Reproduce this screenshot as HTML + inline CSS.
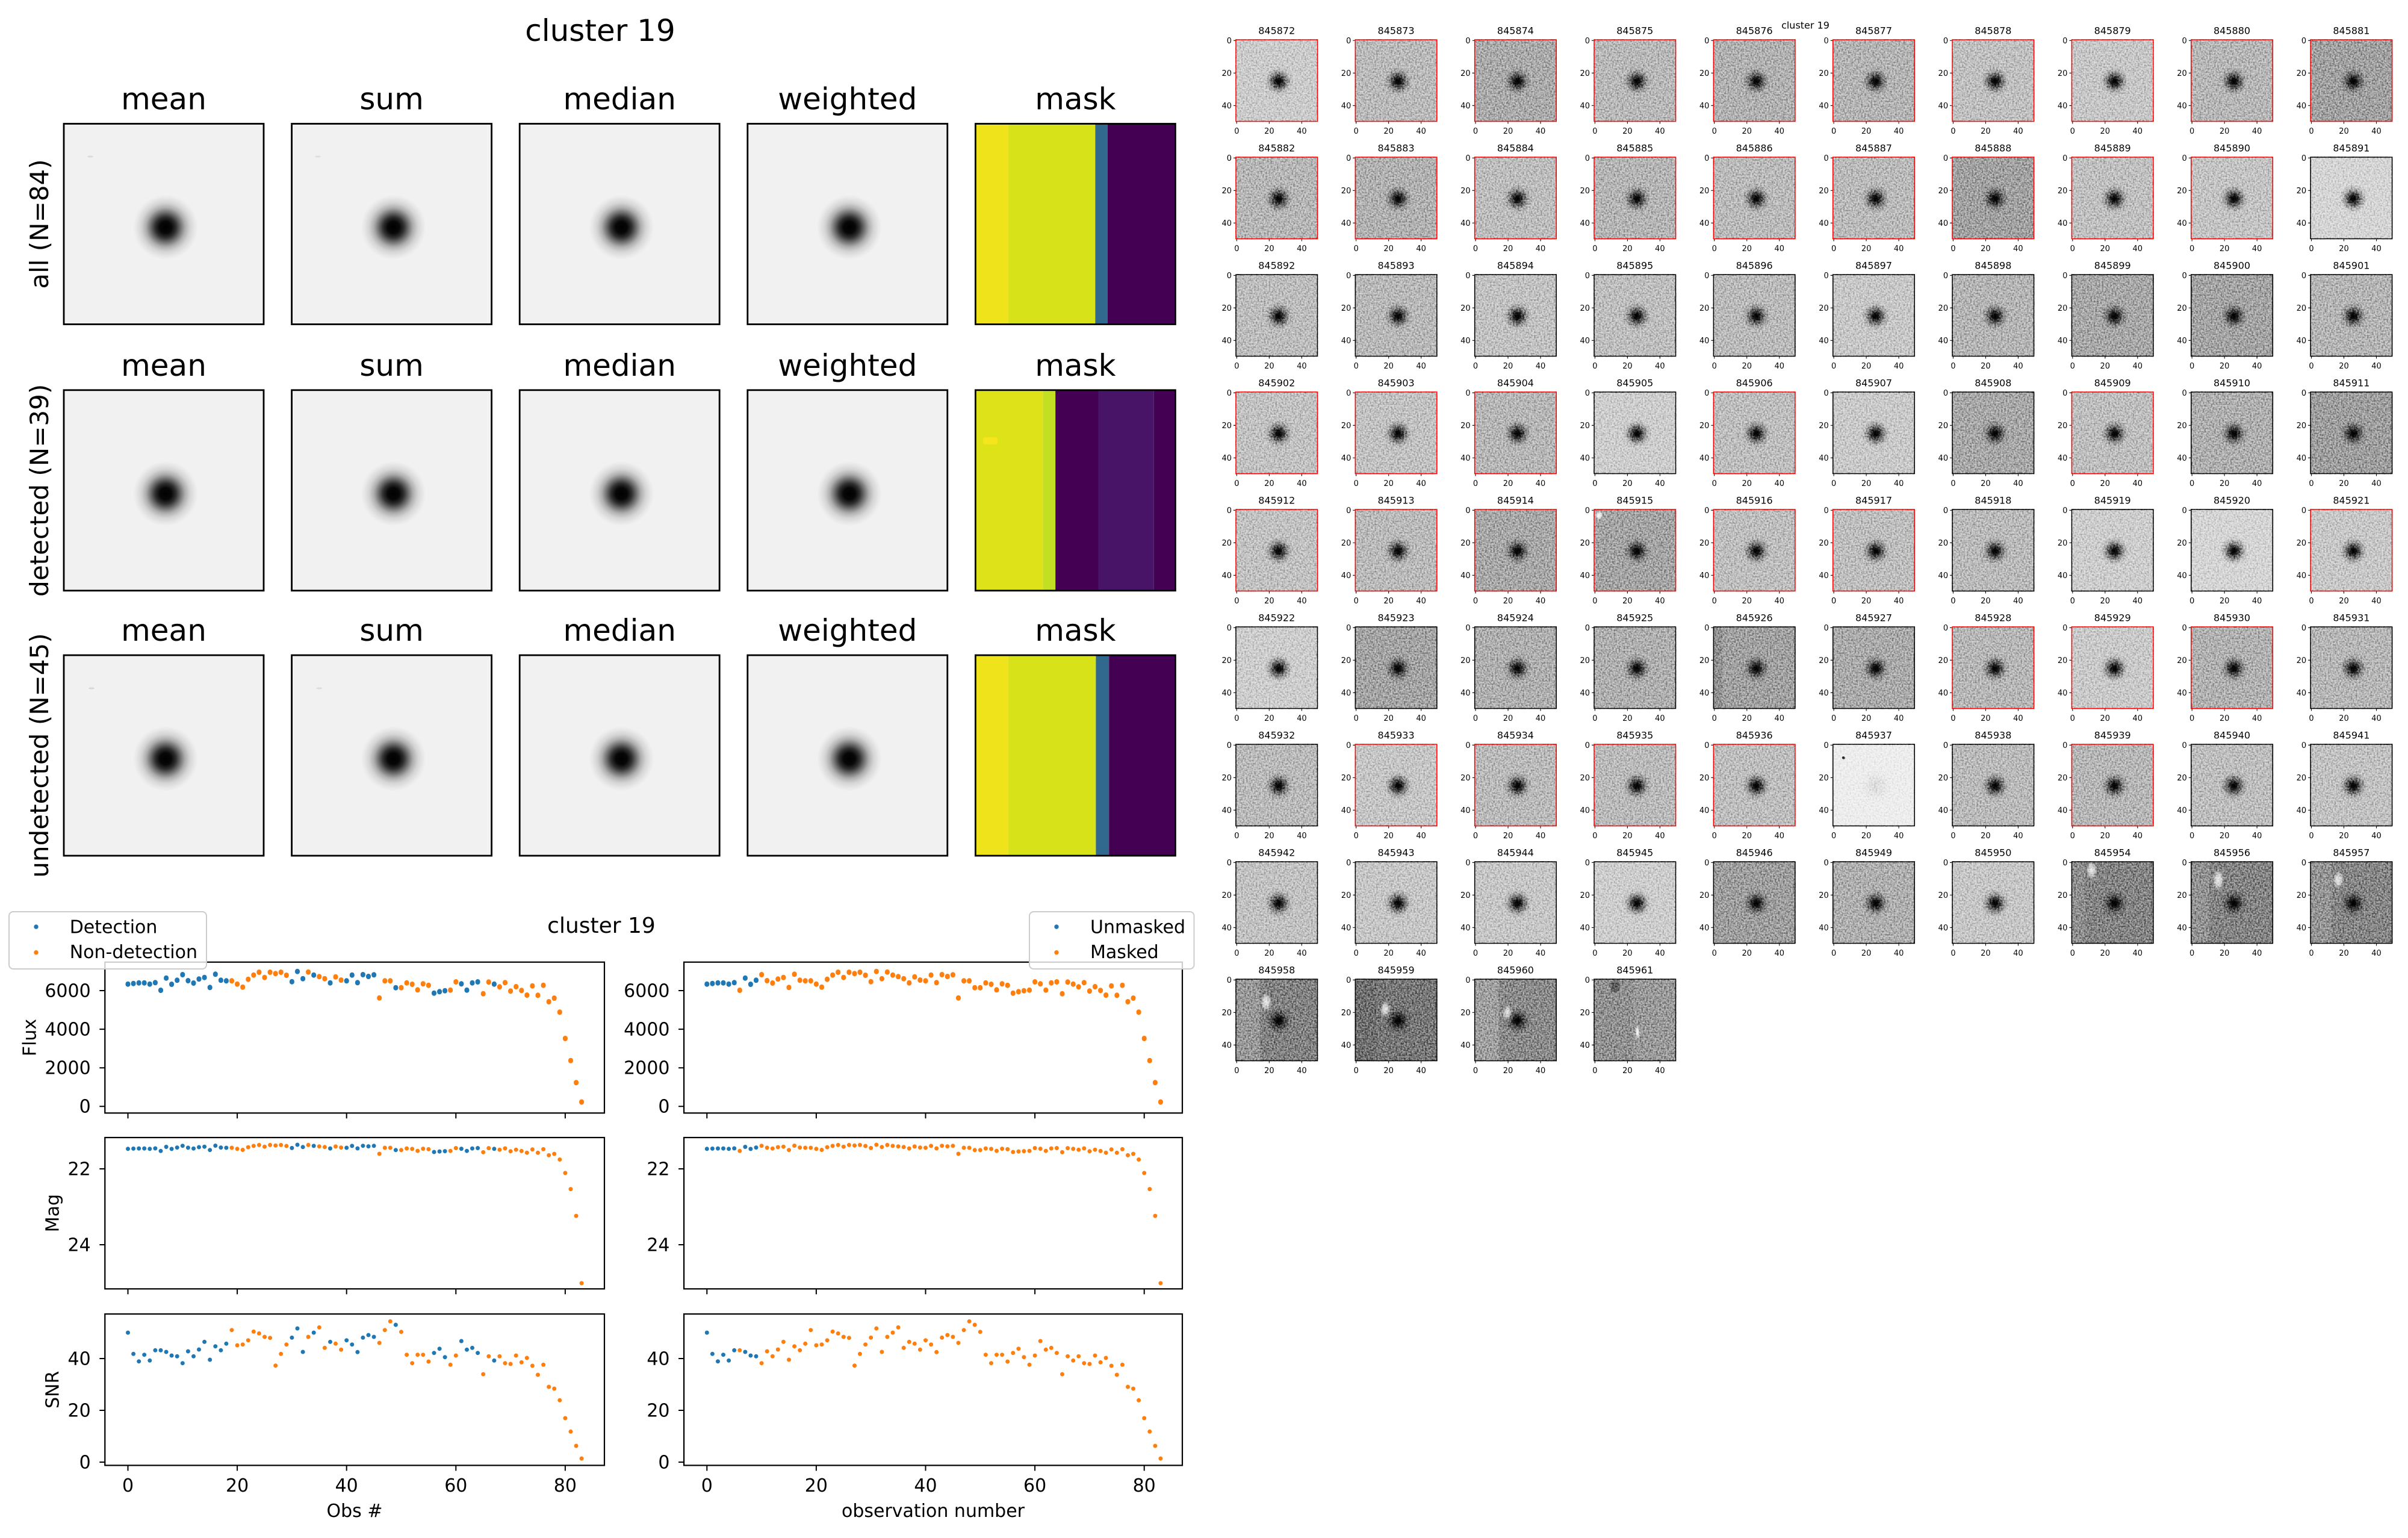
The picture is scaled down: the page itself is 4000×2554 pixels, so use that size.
<!DOCTYPE html>
<html><head><meta charset="utf-8"><style>
html,body{margin:0;padding:0;background:#fff}
svg{display:block}
svg text{font-family:"DejaVu Sans","Liberation Sans",sans-serif;fill:#000}
.c{text-anchor:middle}.e{text-anchor:end}
.f50{font-size:50px}.f42{font-size:42px}.f36{font-size:36px}.f30{font-size:30px}
.tt{font-size:16px;text-anchor:middle}
.yl{font-size:13px;text-anchor:end}
.xl{font-size:13px;text-anchor:middle}
.r{fill:none;stroke:#f00;stroke-width:1.6}
.k{fill:none;stroke:#000;stroke-width:1.6}
.bk{fill:none;stroke:#000;stroke-width:2.8}
.sp{fill:none;stroke:#000;stroke-width:2.2}
</style></head><body>
<svg xmlns="http://www.w3.org/2000/svg" width="4000" height="2554" viewBox="0 0 4000 2554">
<defs>
<radialGradient id="bb"><stop offset="0" stop-opacity="1"/><stop offset=".18" stop-opacity=".97"/><stop offset=".32" stop-opacity=".8"/><stop offset=".45" stop-opacity=".55"/><stop offset=".6" stop-opacity=".28"/><stop offset=".75" stop-opacity=".12"/><stop offset=".9" stop-opacity=".04"/><stop offset="1" stop-opacity="0"/></radialGradient>
<radialGradient id="tb"><stop offset="0" stop-opacity="1"/><stop offset=".18" stop-opacity=".95"/><stop offset=".35" stop-opacity=".72"/><stop offset=".5" stop-opacity=".45"/><stop offset=".7" stop-opacity=".18"/><stop offset=".85" stop-opacity=".06"/><stop offset="1" stop-opacity="0"/></radialGradient>
<radialGradient id="wb"><stop offset="0" stop-color="#fff"/><stop offset=".5" stop-color="#fff" stop-opacity=".7"/><stop offset="1" stop-color="#fff" stop-opacity="0"/></radialGradient>
<filter id="nz" x="0" y="0" width="1" height="1" color-interpolation-filters="sRGB"><feTurbulence type="fractalNoise" baseFrequency="0.37" numOctaves="2" seed="3"/><feColorMatrix type="matrix" values="1 0 0 0 0 1 0 0 0 0 1 0 0 0 0 0 0 0 0 1"/><feComponentTransfer><feFuncR type="linear" slope="2.0" intercept="-0.42"/><feFuncG type="linear" slope="2.0" intercept="-0.42"/><feFuncB type="linear" slope="2.0" intercept="-0.42"/></feComponentTransfer></filter>
<path id="tk" d="M-4 1.35H0M-4 55.35H0M-4 109.35H0M1.35 135.5v4M55.35 135.5v4M109.35 135.5v4" stroke="#000" stroke-width="1.1"/>
<circle id="bl" cx="71" cy="69" r="24" fill="url(#tb)"/>
<path id="fB1" d="M212.5 1633.7v1M221.6 1632.7v1M230.7 1631.7v1M239.7 1631.7v1M248.8 1633.7v1M257.9 1631.3v1M276.1 1623.7v1M285.1 1634v1M294.2 1627.3v1"/>
<path id="fB2" d="M267 1644v1M303.3 1618v1M312.4 1628v1M321.5 1632v1M330.5 1625.3v1M339.6 1622.7v1M348.7 1639.3v1M357.8 1617.3v1M366.9 1627.3v1M375.9 1628.3v1M484.9 1629.7v1M494 1612.7v1M503.1 1624.7v1M521.2 1618.7v1M548.5 1631.7v1M575.7 1628.3v1M584.8 1618.7v1M593.9 1631.3v1M602.9 1618v1M612 1621v1M621.1 1618.3v1M657.4 1639.7v1M721 1648.7v1M730.1 1646.3v1M739.1 1644.7v1M766.4 1633.3v1M775.5 1643.7v1M784.5 1631.7v1M793.6 1630v1M820.9 1633.7v1"/>
<path id="fO" d="M385 1628.3v1M394.1 1633.7v1M403.2 1638.7v1M412.3 1625.7v1M421.3 1618.7v1M430.4 1614v1M439.5 1622.7v1M448.6 1614v1M457.7 1616.3v1M466.7 1614v1M475.8 1619v1M512.1 1613.7v1M530.3 1621.3v1M539.4 1624.7v1M557.5 1621.7v1M566.6 1627v1M630.2 1656.7v1M639.3 1628.3v1M648.3 1628.3v1M666.5 1639.7v1M675.6 1631.7v1M684.7 1634v1M693.7 1643.3v1M702.8 1633.3v1M711.9 1635.7v1M748.2 1643.7v1M757.3 1630v1M802.7 1649.7v1M811.8 1630.3v1M829.9 1638.3v1M839 1631.3v1M848.1 1645.3v1M857.2 1638v1M866.3 1644.3v1M875.3 1652v1M884.4 1636.7v1M893.5 1652.3v1M902.6 1635.7v1M911.7 1663v1M920.7 1657v1M929.8 1680.3v1M938.9 1724v1M948 1760.7v1M957.1 1797.3v1M966.1 1829.5v1"/>
<path id="mB1" d="M212.5 1907.8h.01M221.6 1907.4h.01M230.7 1907.1h.01M239.7 1907.1h.01M248.8 1907.8h.01M257.9 1907h.01M276.1 1904.5h.01M285.1 1907.9h.01M294.2 1905.6h.01"/>
<path id="mB2" d="M267 1911.3h.01M303.3 1902.7h.01M312.4 1905.9h.01M321.5 1907.2h.01M330.5 1905h.01M339.6 1904.2h.01M348.7 1909.7h.01M357.8 1902.5h.01M366.9 1905.6h.01M375.9 1906h.01M484.9 1906.4h.01M494 1901h.01M503.1 1904.8h.01M521.2 1902.9h.01M548.5 1907.1h.01M575.7 1906h.01M584.8 1902.9h.01M593.9 1907h.01M602.9 1902.7h.01M612 1903.6h.01M621.1 1902.8h.01M657.4 1909.8h.01M721 1913h.01M730.1 1912.1h.01M739.1 1911.6h.01M766.4 1907.6h.01M775.5 1911.2h.01M784.5 1907.1h.01M793.6 1906.5h.01M820.9 1907.8h.01"/>
<path id="mO" d="M385 1906h.01M394.1 1907.8h.01M403.2 1909.5h.01M412.3 1905.1h.01M421.3 1902.9h.01M430.4 1901.4h.01M439.5 1904.2h.01M448.6 1901.4h.01M457.7 1902.2h.01M466.7 1901.4h.01M475.8 1903h.01M512.1 1901.4h.01M530.3 1903.7h.01M539.4 1904.8h.01M557.5 1903.9h.01M566.6 1905.6h.01M630.2 1916h.01M639.3 1906h.01M648.3 1906h.01M666.5 1909.8h.01M675.6 1907.1h.01M684.7 1907.9h.01M693.7 1911.1h.01M702.8 1907.6h.01M711.9 1908.4h.01M748.2 1911.2h.01M757.3 1906.5h.01M802.7 1913.4h.01M811.8 1906.6h.01M829.9 1909.3h.01M839 1907h.01M848.1 1911.8h.01M857.2 1909.2h.01M866.3 1911.4h.01M875.3 1914.2h.01M884.4 1908.8h.01M893.5 1914.3h.01M902.6 1908.4h.01M911.7 1918.4h.01M920.7 1916.1h.01M929.8 1925.5h.01M938.9 1947.9h.01M948 1974.6h.01M957.1 2019.1h.01M966.1 2130.9h.01"/>
<path id="sB1" d="M212.5 2213h.01M221.6 2248.3h.01M230.7 2260.7h.01M239.7 2249.7h.01M248.8 2259.3h.01M257.9 2242.3h.01M276.1 2245h.01M285.1 2251h.01M294.2 2252.3h.01"/>
<path id="sB2" d="M267 2242.3h.01M303.3 2263.7h.01M312.4 2244h.01M321.5 2252.3h.01M330.5 2241h.01M339.6 2228.3h.01M348.7 2258h.01M357.8 2235.7h.01M366.9 2242.3h.01M375.9 2231.3h.01M484.9 2221.3h.01M494 2206h.01M503.1 2245h.01M521.2 2213h.01M548.5 2228.3h.01M575.7 2225.7h.01M584.8 2232.7h.01M593.9 2245.3h.01M602.9 2221.3h.01M612 2217h.01M621.1 2220h.01M657.4 2200h.01M721 2246.7h.01M730.1 2239.7h.01M739.1 2253.7h.01M766.4 2227h.01M775.5 2241.3h.01M784.5 2238.3h.01M793.6 2246.7h.01M820.9 2259.3h.01"/>
<path id="sO" d="M385 2208.7h.01M394.1 2234h.01M403.2 2232.7h.01M412.3 2225.7h.01M421.3 2211.3h.01M430.4 2214.3h.01M439.5 2220h.01M448.6 2221.7h.01M457.7 2267.7h.01M466.7 2248.3h.01M475.8 2232.7h.01M512.1 2220h.01M530.3 2204.3h.01M539.4 2238.3h.01M557.5 2231.3h.01M566.6 2241.3h.01M630.2 2230h.01M639.3 2208.7h.01M648.3 2194.3h.01M666.5 2211.7h.01M675.6 2249.7h.01M684.7 2263.7h.01M693.7 2249.7h.01M702.8 2249.7h.01M711.9 2261h.01M748.2 2266.3h.01M757.3 2251h.01M802.7 2282h.01M811.8 2252.3h.01M829.9 2252.3h.01M839 2263.7h.01M848.1 2265h.01M857.2 2251h.01M866.3 2262.3h.01M875.3 2255h.01M884.4 2268h.01M893.5 2283h.01M902.6 2266.3h.01M911.7 2303h.01M920.7 2306h.01M929.8 2325.3h.01M938.9 2355h.01M948 2377.3h.01M957.1 2401h.01M966.1 2422h.01"/>
<path id="ytk" d="M165.3 1645H174.3M165.3 1709.1H174.3M165.3 1773.2H174.3M165.3 1837.3H174.3M165.3 1941H174.3M165.3 2067H174.3M165.3 2256H174.3M165.3 2342H174.3M165.3 2428H174.3M212.5 1848.3v9M394.1 1848.3v9M575.7 1848.3v9M757.3 1848.3v9M938.9 1848.3v9M212.5 2140.3v9M394.1 2140.3v9M575.7 2140.3v9M757.3 2140.3v9M938.9 2140.3v9M212.5 2433.4v9M394.1 2433.4v9M575.7 2433.4v9M757.3 2433.4v9M938.9 2433.4v9"/>
</defs>
<rect width="4000" height="2554" fill="#fff"/>

<!-- ===== Top-left stacked images ===== -->
<text x="997" y="68" class="f50 c">cluster 19</text>
<g class="f50 c">
<text x="272" y="181.7">mean</text><text x="650.6" y="181.7">sum</text><text x="1029.2" y="181.7">median</text><text x="1407.8" y="181.7">weighted</text><text x="1786.4" y="181.7">mask</text>
<text x="272" y="624">mean</text><text x="650.6" y="624">sum</text><text x="1029.2" y="624">median</text><text x="1407.8" y="624">weighted</text><text x="1786.4" y="624">mask</text>
<text x="272" y="1064.2">mean</text><text x="650.6" y="1064.2">sum</text><text x="1029.2" y="1064.2">median</text><text x="1407.8" y="1064.2">weighted</text><text x="1786.4" y="1064.2">mask</text>
</g>
<text class="f42 c" transform="translate(80 372) rotate(-90)">all (N=84)</text>
<text class="f42 c" transform="translate(80 814.3) rotate(-90)">detected (N=39)</text>
<text class="f42 c" transform="translate(80 1254.5) rotate(-90)">undetected (N=45)</text>

<g>
<rect x="106" y="205.5" width="332" height="333" fill="#f1f1f1"/><rect x="484.6" y="205.5" width="332" height="333" fill="#f1f1f1"/><rect x="863.2" y="205.5" width="332" height="333" fill="#f1f1f1"/><rect x="1241.8" y="205.5" width="332" height="333" fill="#f1f1f1"/>
<rect x="106" y="647.8" width="332" height="333" fill="#f1f1f1"/><rect x="484.6" y="647.8" width="332" height="333" fill="#f1f1f1"/><rect x="863.2" y="647.8" width="332" height="333" fill="#f1f1f1"/><rect x="1241.8" y="647.8" width="332" height="333" fill="#f1f1f1"/>
<rect x="106" y="1088" width="332" height="333" fill="#f1f1f1"/><rect x="484.6" y="1088" width="332" height="333" fill="#f1f1f1"/><rect x="863.2" y="1088" width="332" height="333" fill="#f1f1f1"/><rect x="1241.8" y="1088" width="332" height="333" fill="#f1f1f1"/>
<ellipse cx="150" cy="260" rx="5" ry="1.5" fill="#dadada"/><ellipse cx="528" cy="260" rx="5" ry="1.5" fill="#dedede"/>
<ellipse cx="152" cy="1143" rx="5" ry="1.5" fill="#d6d6d6"/><ellipse cx="530" cy="1143" rx="5" ry="1.5" fill="#dcdcdc"/>
<circle cx="275" cy="377.5" r="54" fill="url(#bb)"/><circle cx="653.6" cy="377.5" r="54" fill="url(#bb)"/><circle cx="1032.2" cy="377.5" r="54" fill="url(#bb)"/><circle cx="1410.8" cy="377.5" r="54" fill="url(#bb)"/>
<circle cx="275" cy="819.8" r="54" fill="url(#bb)"/><circle cx="653.6" cy="819.8" r="54" fill="url(#bb)"/><circle cx="1032.2" cy="819.8" r="54" fill="url(#bb)"/><circle cx="1410.8" cy="819.8" r="54" fill="url(#bb)"/>
<circle cx="275" cy="1260" r="54" fill="url(#bb)"/><circle cx="653.6" cy="1260" r="54" fill="url(#bb)"/><circle cx="1032.2" cy="1260" r="54" fill="url(#bb)"/><circle cx="1410.8" cy="1260" r="54" fill="url(#bb)"/>
<!-- masks -->
<rect x="1620.4" y="205.5" width="54.5" height="333" fill="#efe41c"/><rect x="1674.9" y="205.5" width="144.5" height="333" fill="#d8e219"/><rect x="1819.4" y="205.5" width="20.5" height="333" fill="#31688e"/><rect x="1839.9" y="205.5" width="112.5" height="333" fill="#440154"/>
<rect x="1620.4" y="647.8" width="112.2" height="333" fill="#dde318"/><rect x="1732.6" y="647.8" width="20.6" height="333" fill="#c2df23"/><rect x="1753.2" y="647.8" width="71.3" height="333" fill="#440154"/><rect x="1824.5" y="647.8" width="92.3" height="333" fill="#481467"/><rect x="1916.8" y="647.8" width="35.6" height="333" fill="#440154"/>
<rect x="1633" y="726" width="24" height="12" rx="3" fill="#f5e51c"/>
<rect x="1620.4" y="1088" width="54.5" height="333" fill="#efe41c"/><rect x="1674.9" y="1088" width="145.5" height="333" fill="#d8e219"/><rect x="1820.4" y="1088" width="21.8" height="333" fill="#31688e"/><rect x="1842.2" y="1088" width="110.2" height="333" fill="#440154"/>
<g class="bk">
<rect x="106" y="205.5" width="332" height="333"/><rect x="484.6" y="205.5" width="332" height="333"/><rect x="863.2" y="205.5" width="332" height="333"/><rect x="1241.8" y="205.5" width="332" height="333"/><rect x="1620.4" y="205.5" width="332" height="333"/>
<rect x="106" y="647.8" width="332" height="333"/><rect x="484.6" y="647.8" width="332" height="333"/><rect x="863.2" y="647.8" width="332" height="333"/><rect x="1241.8" y="647.8" width="332" height="333"/><rect x="1620.4" y="647.8" width="332" height="333"/>
<rect x="106" y="1088" width="332" height="333"/><rect x="484.6" y="1088" width="332" height="333"/><rect x="863.2" y="1088" width="332" height="333"/><rect x="1241.8" y="1088" width="332" height="333"/><rect x="1620.4" y="1088" width="332" height="333"/>
</g>
</g>

<!-- ===== Bottom-left plots ===== -->
<text x="999" y="1549" class="f36 c">cluster 19</text>
<g fill="none" stroke-linecap="round">
<use href="#fB1" stroke="#1f77b4" stroke-width="8"/><use href="#fB2" stroke="#1f77b4" stroke-width="8"/><use href="#fO" stroke="#ff7f0e" stroke-width="8"/>
<use href="#mB1" stroke="#1f77b4" stroke-width="7"/><use href="#mB2" stroke="#1f77b4" stroke-width="7"/><use href="#mO" stroke="#ff7f0e" stroke-width="7"/>
<use href="#sB1" stroke="#1f77b4" stroke-width="7"/><use href="#sB2" stroke="#1f77b4" stroke-width="7"/><use href="#sO" stroke="#ff7f0e" stroke-width="7"/>
<g transform="translate(961.8 0)">
<use href="#fB1" stroke="#1f77b4" stroke-width="8"/><use href="#fB2" stroke="#ff7f0e" stroke-width="8"/><use href="#fO" stroke="#ff7f0e" stroke-width="8"/>
<use href="#mB1" stroke="#1f77b4" stroke-width="7"/><use href="#mB2" stroke="#ff7f0e" stroke-width="7"/><use href="#mO" stroke="#ff7f0e" stroke-width="7"/>
<use href="#sB1" stroke="#1f77b4" stroke-width="7"/><use href="#sB2" stroke="#ff7f0e" stroke-width="7"/><use href="#sO" stroke="#ff7f0e" stroke-width="7"/>
</g>
</g>
<g class="sp">
<rect x="174.3" y="1597.7" width="829.7" height="250.6"/><rect x="174.3" y="1889" width="829.7" height="251.3"/><rect x="174.3" y="2182" width="829.7" height="251.4"/>
<rect x="1136.1" y="1597.7" width="827.9" height="250.6"/><rect x="1136.1" y="1889" width="827.9" height="251.3"/><rect x="1136.1" y="2182" width="827.9" height="251.4"/>
</g>
<g stroke="#000" stroke-width="2" fill="none"><use href="#ytk"/><use href="#ytk" transform="translate(961.8 0)"/></g>
<g class="f30 e">
<text x="150.7" y="1655.3">6000</text><text x="150.7" y="1719.4">4000</text><text x="150.7" y="1783.5">2000</text><text x="150.7" y="1847.6">0</text>
<text x="150.7" y="1951.3">22</text><text x="150.7" y="2077.3">24</text>
<text x="150.7" y="2266.3">40</text><text x="150.7" y="2352.3">20</text><text x="150.7" y="2438.3">0</text>
<text x="1112.5" y="1655.3">6000</text><text x="1112.5" y="1719.4">4000</text><text x="1112.5" y="1783.5">2000</text><text x="1112.5" y="1847.6">0</text>
<text x="1112.5" y="1951.3">22</text><text x="1112.5" y="2077.3">24</text>
<text x="1112.5" y="2266.3">40</text><text x="1112.5" y="2352.3">20</text><text x="1112.5" y="2438.3">0</text>
</g>
<g class="f30 c">
<text x="212.5" y="2477">0</text><text x="394.1" y="2477">20</text><text x="575.7" y="2477">40</text><text x="757.3" y="2477">60</text><text x="938.9" y="2477">80</text>
<text x="1174.3" y="2477">0</text><text x="1355.9" y="2477">20</text><text x="1537.5" y="2477">40</text><text x="1719.1" y="2477">60</text><text x="1900.7" y="2477">80</text>
<text x="589" y="2519">Obs #</text><text x="1550" y="2519">observation number</text>
<text transform="translate(59.5 1723) rotate(-90)">Flux</text>
<text transform="translate(97.5 2014.6) rotate(-90)">Mag</text>
<text transform="translate(97.5 2307.7) rotate(-90)">SNR</text>
</g>
<!-- legends -->
<rect x="15" y="1514" width="328" height="95" rx="7" fill="#fff" fill-opacity=".8" stroke="#cccccc" stroke-width="2"/>
<circle cx="60" cy="1539" r="3.7" fill="#1f77b4"/><circle cx="60" cy="1581.7" r="3.7" fill="#ff7f0e"/>
<text class="f30" x="115.7" y="1549.5">Detection</text><text class="f30" x="115.7" y="1591">Non-detection</text>
<rect x="1710" y="1514" width="273.5" height="95" rx="7" fill="#fff" fill-opacity=".8" stroke="#cccccc" stroke-width="2"/>
<circle cx="1755" cy="1539" r="3.7" fill="#1f77b4"/><circle cx="1755" cy="1581.7" r="3.7" fill="#ff7f0e"/>
<text class="f30" x="1811" y="1549.5">Unmasked</text><text class="f30" x="1811" y="1591">Masked</text>

<!-- ===== Right thumbnail grid ===== -->
<g>
<!-- row 0 -->
<g transform="translate(2053 66)"><rect width="135.5" height="135.5" fill="#c8c8c8"/><use href="#bl"/><use href="#tk"/><rect class="r" width="135.5" height="135.5"/><text class="tt" x="67.75" y="-9.3">845872</text><text class="yl"><tspan x="-7" y="6">0</tspan><tspan x="-7" y="60">20</tspan><tspan x="-7" y="114">40</tspan></text><text class="xl" y="156"><tspan x="1.35">0</tspan><tspan x="55.35">20</tspan><tspan x="109.35">40</tspan></text></g>
<g transform="translate(2251.35 66)"><rect width="135.5" height="135.5" fill="#b6b6b6"/><use href="#bl"/><use href="#tk"/><rect class="r" width="135.5" height="135.5"/><text class="tt" x="67.75" y="-9.3">845873</text><text class="yl"><tspan x="-7" y="6">0</tspan><tspan x="-7" y="60">20</tspan><tspan x="-7" y="114">40</tspan></text><text class="xl" y="156"><tspan x="1.35">0</tspan><tspan x="55.35">20</tspan><tspan x="109.35">40</tspan></text></g>
<g transform="translate(2449.7 66)"><rect width="135.5" height="135.5" fill="#a5a5a5"/><use href="#bl"/><use href="#tk"/><rect class="r" width="135.5" height="135.5"/><text class="tt" x="67.75" y="-9.3">845874</text><text class="yl"><tspan x="-7" y="6">0</tspan><tspan x="-7" y="60">20</tspan><tspan x="-7" y="114">40</tspan></text><text class="xl" y="156"><tspan x="1.35">0</tspan><tspan x="55.35">20</tspan><tspan x="109.35">40</tspan></text></g>
<g transform="translate(2648.05 66)"><rect width="135.5" height="135.5" fill="#b4b4b4"/><use href="#bl"/><use href="#tk"/><rect class="r" width="135.5" height="135.5"/><text class="tt" x="67.75" y="-9.3">845875</text><text class="yl"><tspan x="-7" y="6">0</tspan><tspan x="-7" y="60">20</tspan><tspan x="-7" y="114">40</tspan></text><text class="xl" y="156"><tspan x="1.35">0</tspan><tspan x="55.35">20</tspan><tspan x="109.35">40</tspan></text></g>
<g transform="translate(2846.4 66)"><rect width="135.5" height="135.5" fill="#acacac"/><use href="#bl"/><use href="#tk"/><rect class="r" width="135.5" height="135.5"/><text class="tt" x="67.75" y="-9.3">845876</text><text class="yl"><tspan x="-7" y="6">0</tspan><tspan x="-7" y="60">20</tspan><tspan x="-7" y="114">40</tspan></text><text class="xl" y="156"><tspan x="1.35">0</tspan><tspan x="55.35">20</tspan><tspan x="109.35">40</tspan></text></g>
<g transform="translate(3044.75 66)"><rect width="135.5" height="135.5" fill="#afafaf"/><use href="#bl"/><use href="#tk"/><rect class="r" width="135.5" height="135.5"/><text class="tt" x="67.75" y="-9.3">845877</text><text class="yl"><tspan x="-7" y="6">0</tspan><tspan x="-7" y="60">20</tspan><tspan x="-7" y="114">40</tspan></text><text class="xl" y="156"><tspan x="1.35">0</tspan><tspan x="55.35">20</tspan><tspan x="109.35">40</tspan></text></g>
<g transform="translate(3243.1 66)"><rect width="135.5" height="135.5" fill="#bcbcbc"/><use href="#bl"/><use href="#tk"/><rect class="r" width="135.5" height="135.5"/><text class="tt" x="67.75" y="-9.3">845878</text><text class="yl"><tspan x="-7" y="6">0</tspan><tspan x="-7" y="60">20</tspan><tspan x="-7" y="114">40</tspan></text><text class="xl" y="156"><tspan x="1.35">0</tspan><tspan x="55.35">20</tspan><tspan x="109.35">40</tspan></text></g>
<g transform="translate(3441.45 66)"><rect width="135.5" height="135.5" fill="#c3c3c3"/><use href="#bl"/><use href="#tk"/><rect class="r" width="135.5" height="135.5"/><text class="tt" x="67.75" y="-9.3">845879</text><text class="yl"><tspan x="-7" y="6">0</tspan><tspan x="-7" y="60">20</tspan><tspan x="-7" y="114">40</tspan></text><text class="xl" y="156"><tspan x="1.35">0</tspan><tspan x="55.35">20</tspan><tspan x="109.35">40</tspan></text></g>
<g transform="translate(3639.8 66)"><rect width="135.5" height="135.5" fill="#b2b2b2"/><use href="#bl"/><use href="#tk"/><rect class="r" width="135.5" height="135.5"/><text class="tt" x="67.75" y="-9.3">845880</text><text class="yl"><tspan x="-7" y="6">0</tspan><tspan x="-7" y="60">20</tspan><tspan x="-7" y="114">40</tspan></text><text class="xl" y="156"><tspan x="1.35">0</tspan><tspan x="55.35">20</tspan><tspan x="109.35">40</tspan></text></g>
<g transform="translate(3838.15 66)"><rect width="135.5" height="135.5" fill="#9b9b9b"/><use href="#bl"/><use href="#tk"/><rect class="r" width="135.5" height="135.5"/><text class="tt" x="67.75" y="-9.3">845881</text><text class="yl"><tspan x="-7" y="6">0</tspan><tspan x="-7" y="60">20</tspan><tspan x="-7" y="114">40</tspan></text><text class="xl" y="156"><tspan x="1.35">0</tspan><tspan x="55.35">20</tspan><tspan x="109.35">40</tspan></text></g>
<!-- row 1 -->
<g transform="translate(2053 261)"><rect width="135.5" height="135.5" fill="#b2b2b2"/><use href="#bl"/><use href="#tk"/><rect class="r" width="135.5" height="135.5"/><text class="tt" x="67.75" y="-9.3">845882</text><text class="yl"><tspan x="-7" y="6">0</tspan><tspan x="-7" y="60">20</tspan><tspan x="-7" y="114">40</tspan></text><text class="xl" y="156"><tspan x="1.35">0</tspan><tspan x="55.35">20</tspan><tspan x="109.35">40</tspan></text></g>
<g transform="translate(2251.35 261)"><rect width="135.5" height="135.5" fill="#acacac"/><use href="#bl"/><use href="#tk"/><rect class="r" width="135.5" height="135.5"/><text class="tt" x="67.75" y="-9.3">845883</text><text class="yl"><tspan x="-7" y="6">0</tspan><tspan x="-7" y="60">20</tspan><tspan x="-7" y="114">40</tspan></text><text class="xl" y="156"><tspan x="1.35">0</tspan><tspan x="55.35">20</tspan><tspan x="109.35">40</tspan></text></g>
<g transform="translate(2449.7 261)"><rect width="135.5" height="135.5" fill="#b9b9b9"/><use href="#bl"/><use href="#tk"/><rect class="r" width="135.5" height="135.5"/><text class="tt" x="67.75" y="-9.3">845884</text><text class="yl"><tspan x="-7" y="6">0</tspan><tspan x="-7" y="60">20</tspan><tspan x="-7" y="114">40</tspan></text><text class="xl" y="156"><tspan x="1.35">0</tspan><tspan x="55.35">20</tspan><tspan x="109.35">40</tspan></text></g>
<g transform="translate(2648.05 261)"><rect width="135.5" height="135.5" fill="#b0b0b0"/><use href="#bl"/><use href="#tk"/><rect class="r" width="135.5" height="135.5"/><text class="tt" x="67.75" y="-9.3">845885</text><text class="yl"><tspan x="-7" y="6">0</tspan><tspan x="-7" y="60">20</tspan><tspan x="-7" y="114">40</tspan></text><text class="xl" y="156"><tspan x="1.35">0</tspan><tspan x="55.35">20</tspan><tspan x="109.35">40</tspan></text></g>
<g transform="translate(2846.4 261)"><rect width="135.5" height="135.5" fill="#b6b6b6"/><use href="#bl"/><use href="#tk"/><rect class="r" width="135.5" height="135.5"/><text class="tt" x="67.75" y="-9.3">845886</text><text class="yl"><tspan x="-7" y="6">0</tspan><tspan x="-7" y="60">20</tspan><tspan x="-7" y="114">40</tspan></text><text class="xl" y="156"><tspan x="1.35">0</tspan><tspan x="55.35">20</tspan><tspan x="109.35">40</tspan></text></g>
<g transform="translate(3044.75 261)"><rect width="135.5" height="135.5" fill="#b6b6b6"/><use href="#bl"/><use href="#tk"/><rect class="r" width="135.5" height="135.5"/><text class="tt" x="67.75" y="-9.3">845887</text><text class="yl"><tspan x="-7" y="6">0</tspan><tspan x="-7" y="60">20</tspan><tspan x="-7" y="114">40</tspan></text><text class="xl" y="156"><tspan x="1.35">0</tspan><tspan x="55.35">20</tspan><tspan x="109.35">40</tspan></text></g>
<g transform="translate(3243.1 261)"><rect width="135.5" height="135.5" fill="#9b9b9b"/><use href="#bl"/><use href="#tk"/><rect class="r" width="135.5" height="135.5"/><text class="tt" x="67.75" y="-9.3">845888</text><text class="yl"><tspan x="-7" y="6">0</tspan><tspan x="-7" y="60">20</tspan><tspan x="-7" y="114">40</tspan></text><text class="xl" y="156"><tspan x="1.35">0</tspan><tspan x="55.35">20</tspan><tspan x="109.35">40</tspan></text></g>
<g transform="translate(3441.45 261)"><rect width="135.5" height="135.5" fill="#bcbcbc"/><use href="#bl"/><use href="#tk"/><rect class="r" width="135.5" height="135.5"/><text class="tt" x="67.75" y="-9.3">845889</text><text class="yl"><tspan x="-7" y="6">0</tspan><tspan x="-7" y="60">20</tspan><tspan x="-7" y="114">40</tspan></text><text class="xl" y="156"><tspan x="1.35">0</tspan><tspan x="55.35">20</tspan><tspan x="109.35">40</tspan></text></g>
<g transform="translate(3639.8 261)"><rect width="135.5" height="135.5" fill="#c0c0c0"/><use href="#bl"/><use href="#tk"/><rect class="r" width="135.5" height="135.5"/><text class="tt" x="67.75" y="-9.3">845890</text><text class="yl"><tspan x="-7" y="6">0</tspan><tspan x="-7" y="60">20</tspan><tspan x="-7" y="114">40</tspan></text><text class="xl" y="156"><tspan x="1.35">0</tspan><tspan x="55.35">20</tspan><tspan x="109.35">40</tspan></text></g>
<g transform="translate(3838.15 261)"><rect width="135.5" height="135.5" fill="#d2d2d2"/><use href="#bl"/><use href="#tk"/><rect class="k" width="135.5" height="135.5"/><text class="tt" x="67.75" y="-9.3">845891</text><text class="yl"><tspan x="-7" y="6">0</tspan><tspan x="-7" y="60">20</tspan><tspan x="-7" y="114">40</tspan></text><text class="xl" y="156"><tspan x="1.35">0</tspan><tspan x="55.35">20</tspan><tspan x="109.35">40</tspan></text></g>
<!-- row 2 -->
<g transform="translate(2053 456)"><rect width="135.5" height="135.5" fill="#b9b9b9"/><use href="#bl"/><use href="#tk"/><rect class="k" width="135.5" height="135.5"/><text class="tt" x="67.75" y="-9.3">845892</text><text class="yl"><tspan x="-7" y="6">0</tspan><tspan x="-7" y="60">20</tspan><tspan x="-7" y="114">40</tspan></text><text class="xl" y="156"><tspan x="1.35">0</tspan><tspan x="55.35">20</tspan><tspan x="109.35">40</tspan></text></g>
<g transform="translate(2251.35 456)"><rect width="135.5" height="135.5" fill="#b4b4b4"/><use href="#bl"/><use href="#tk"/><rect class="k" width="135.5" height="135.5"/><text class="tt" x="67.75" y="-9.3">845893</text><text class="yl"><tspan x="-7" y="6">0</tspan><tspan x="-7" y="60">20</tspan><tspan x="-7" y="114">40</tspan></text><text class="xl" y="156"><tspan x="1.35">0</tspan><tspan x="55.35">20</tspan><tspan x="109.35">40</tspan></text></g>
<g transform="translate(2449.7 456)"><rect width="135.5" height="135.5" fill="#bebebe"/><use href="#bl"/><use href="#tk"/><rect class="k" width="135.5" height="135.5"/><text class="tt" x="67.75" y="-9.3">845894</text><text class="yl"><tspan x="-7" y="6">0</tspan><tspan x="-7" y="60">20</tspan><tspan x="-7" y="114">40</tspan></text><text class="xl" y="156"><tspan x="1.35">0</tspan><tspan x="55.35">20</tspan><tspan x="109.35">40</tspan></text></g>
<g transform="translate(2648.05 456)"><rect width="135.5" height="135.5" fill="#bababa"/><use href="#bl"/><use href="#tk"/><rect class="k" width="135.5" height="135.5"/><text class="tt" x="67.75" y="-9.3">845895</text><text class="yl"><tspan x="-7" y="6">0</tspan><tspan x="-7" y="60">20</tspan><tspan x="-7" y="114">40</tspan></text><text class="xl" y="156"><tspan x="1.35">0</tspan><tspan x="55.35">20</tspan><tspan x="109.35">40</tspan></text></g>
<g transform="translate(2846.4 456)"><rect width="135.5" height="135.5" fill="#b6b6b6"/><use href="#bl"/><use href="#tk"/><rect class="k" width="135.5" height="135.5"/><text class="tt" x="67.75" y="-9.3">845896</text><text class="yl"><tspan x="-7" y="6">0</tspan><tspan x="-7" y="60">20</tspan><tspan x="-7" y="114">40</tspan></text><text class="xl" y="156"><tspan x="1.35">0</tspan><tspan x="55.35">20</tspan><tspan x="109.35">40</tspan></text></g>
<g transform="translate(3044.75 456)"><rect width="135.5" height="135.5" fill="#c4c4c4"/><use href="#bl"/><use href="#tk"/><rect class="k" width="135.5" height="135.5"/><text class="tt" x="67.75" y="-9.3">845897</text><text class="yl"><tspan x="-7" y="6">0</tspan><tspan x="-7" y="60">20</tspan><tspan x="-7" y="114">40</tspan></text><text class="xl" y="156"><tspan x="1.35">0</tspan><tspan x="55.35">20</tspan><tspan x="109.35">40</tspan></text></g>
<g transform="translate(3243.1 456)"><rect width="135.5" height="135.5" fill="#b0b0b0"/><use href="#bl"/><use href="#tk"/><rect class="k" width="135.5" height="135.5"/><text class="tt" x="67.75" y="-9.3">845898</text><text class="yl"><tspan x="-7" y="6">0</tspan><tspan x="-7" y="60">20</tspan><tspan x="-7" y="114">40</tspan></text><text class="xl" y="156"><tspan x="1.35">0</tspan><tspan x="55.35">20</tspan><tspan x="109.35">40</tspan></text></g>
<g transform="translate(3441.45 456)"><rect width="135.5" height="135.5" fill="#a2a2a2"/><use href="#bl"/><use href="#tk"/><rect class="k" width="135.5" height="135.5"/><text class="tt" x="67.75" y="-9.3">845899</text><text class="yl"><tspan x="-7" y="6">0</tspan><tspan x="-7" y="60">20</tspan><tspan x="-7" y="114">40</tspan></text><text class="xl" y="156"><tspan x="1.35">0</tspan><tspan x="55.35">20</tspan><tspan x="109.35">40</tspan></text></g>
<g transform="translate(3639.8 456)"><rect width="135.5" height="135.5" fill="#9e9e9e"/><use href="#bl"/><use href="#tk"/><rect class="k" width="135.5" height="135.5"/><text class="tt" x="67.75" y="-9.3">845900</text><text class="yl"><tspan x="-7" y="6">0</tspan><tspan x="-7" y="60">20</tspan><tspan x="-7" y="114">40</tspan></text><text class="xl" y="156"><tspan x="1.35">0</tspan><tspan x="55.35">20</tspan><tspan x="109.35">40</tspan></text></g>
<g transform="translate(3838.15 456)"><rect width="135.5" height="135.5" fill="#b0b0b0"/><use href="#bl"/><use href="#tk"/><rect class="k" width="135.5" height="135.5"/><text class="tt" x="67.75" y="-9.3">845901</text><text class="yl"><tspan x="-7" y="6">0</tspan><tspan x="-7" y="60">20</tspan><tspan x="-7" y="114">40</tspan></text><text class="xl" y="156"><tspan x="1.35">0</tspan><tspan x="55.35">20</tspan><tspan x="109.35">40</tspan></text></g>
<!-- row 3 -->
<g transform="translate(2053 651)"><rect width="135.5" height="135.5" fill="#bebebe"/><use href="#bl"/><use href="#tk"/><rect class="r" width="135.5" height="135.5"/><text class="tt" x="67.75" y="-9.3">845902</text><text class="yl"><tspan x="-7" y="6">0</tspan><tspan x="-7" y="60">20</tspan><tspan x="-7" y="114">40</tspan></text><text class="xl" y="156"><tspan x="1.35">0</tspan><tspan x="55.35">20</tspan><tspan x="109.35">40</tspan></text></g>
<g transform="translate(2251.35 651)"><rect width="135.5" height="135.5" fill="#bebebe"/><use href="#bl"/><use href="#tk"/><rect class="r" width="135.5" height="135.5"/><text class="tt" x="67.75" y="-9.3">845903</text><text class="yl"><tspan x="-7" y="6">0</tspan><tspan x="-7" y="60">20</tspan><tspan x="-7" y="114">40</tspan></text><text class="xl" y="156"><tspan x="1.35">0</tspan><tspan x="55.35">20</tspan><tspan x="109.35">40</tspan></text></g>
<g transform="translate(2449.7 651)"><rect width="135.5" height="135.5" fill="#b2b2b2"/><use href="#bl"/><use href="#tk"/><rect class="r" width="135.5" height="135.5"/><text class="tt" x="67.75" y="-9.3">845904</text><text class="yl"><tspan x="-7" y="6">0</tspan><tspan x="-7" y="60">20</tspan><tspan x="-7" y="114">40</tspan></text><text class="xl" y="156"><tspan x="1.35">0</tspan><tspan x="55.35">20</tspan><tspan x="109.35">40</tspan></text></g>
<g transform="translate(2648.05 651)"><rect width="135.5" height="135.5" fill="#cacaca"/><use href="#bl"/><use href="#tk"/><rect class="k" width="135.5" height="135.5"/><text class="tt" x="67.75" y="-9.3">845905</text><text class="yl"><tspan x="-7" y="6">0</tspan><tspan x="-7" y="60">20</tspan><tspan x="-7" y="114">40</tspan></text><text class="xl" y="156"><tspan x="1.35">0</tspan><tspan x="55.35">20</tspan><tspan x="109.35">40</tspan></text></g>
<g transform="translate(2846.4 651)"><rect width="135.5" height="135.5" fill="#bababa"/><use href="#bl"/><use href="#tk"/><rect class="r" width="135.5" height="135.5"/><text class="tt" x="67.75" y="-9.3">845906</text><text class="yl"><tspan x="-7" y="6">0</tspan><tspan x="-7" y="60">20</tspan><tspan x="-7" y="114">40</tspan></text><text class="xl" y="156"><tspan x="1.35">0</tspan><tspan x="55.35">20</tspan><tspan x="109.35">40</tspan></text></g>
<g transform="translate(3044.75 651)"><rect width="135.5" height="135.5" fill="#c6c6c6"/><use href="#bl"/><use href="#tk"/><rect class="k" width="135.5" height="135.5"/><text class="tt" x="67.75" y="-9.3">845907</text><text class="yl"><tspan x="-7" y="6">0</tspan><tspan x="-7" y="60">20</tspan><tspan x="-7" y="114">40</tspan></text><text class="xl" y="156"><tspan x="1.35">0</tspan><tspan x="55.35">20</tspan><tspan x="109.35">40</tspan></text></g>
<g transform="translate(3243.1 651)"><rect width="135.5" height="135.5" fill="#a2a2a2"/><use href="#bl"/><use href="#tk"/><rect class="k" width="135.5" height="135.5"/><text class="tt" x="67.75" y="-9.3">845908</text><text class="yl"><tspan x="-7" y="6">0</tspan><tspan x="-7" y="60">20</tspan><tspan x="-7" y="114">40</tspan></text><text class="xl" y="156"><tspan x="1.35">0</tspan><tspan x="55.35">20</tspan><tspan x="109.35">40</tspan></text></g>
<g transform="translate(3441.45 651)"><rect width="135.5" height="135.5" fill="#bababa"/><use href="#bl"/><use href="#tk"/><rect class="r" width="135.5" height="135.5"/><text class="tt" x="67.75" y="-9.3">845909</text><text class="yl"><tspan x="-7" y="6">0</tspan><tspan x="-7" y="60">20</tspan><tspan x="-7" y="114">40</tspan></text><text class="xl" y="156"><tspan x="1.35">0</tspan><tspan x="55.35">20</tspan><tspan x="109.35">40</tspan></text></g>
<g transform="translate(3639.8 651)"><rect width="135.5" height="135.5" fill="#aaaaaa"/><use href="#bl"/><use href="#tk"/><rect class="k" width="135.5" height="135.5"/><text class="tt" x="67.75" y="-9.3">845910</text><text class="yl"><tspan x="-7" y="6">0</tspan><tspan x="-7" y="60">20</tspan><tspan x="-7" y="114">40</tspan></text><text class="xl" y="156"><tspan x="1.35">0</tspan><tspan x="55.35">20</tspan><tspan x="109.35">40</tspan></text></g>
<g transform="translate(3838.15 651)"><rect width="135.5" height="135.5" fill="#989898"/><use href="#bl"/><use href="#tk"/><rect class="k" width="135.5" height="135.5"/><text class="tt" x="67.75" y="-9.3">845911</text><text class="yl"><tspan x="-7" y="6">0</tspan><tspan x="-7" y="60">20</tspan><tspan x="-7" y="114">40</tspan></text><text class="xl" y="156"><tspan x="1.35">0</tspan><tspan x="55.35">20</tspan><tspan x="109.35">40</tspan></text></g>
<!-- row 4 -->
<g transform="translate(2053 846)"><rect width="135.5" height="135.5" fill="#bebebe"/><use href="#bl"/><use href="#tk"/><rect class="r" width="135.5" height="135.5"/><text class="tt" x="67.75" y="-9.3">845912</text><text class="yl"><tspan x="-7" y="6">0</tspan><tspan x="-7" y="60">20</tspan><tspan x="-7" y="114">40</tspan></text><text class="xl" y="156"><tspan x="1.35">0</tspan><tspan x="55.35">20</tspan><tspan x="109.35">40</tspan></text></g>
<g transform="translate(2251.35 846)"><rect width="135.5" height="135.5" fill="#b6b6b6"/><use href="#bl"/><use href="#tk"/><rect class="r" width="135.5" height="135.5"/><text class="tt" x="67.75" y="-9.3">845913</text><text class="yl"><tspan x="-7" y="6">0</tspan><tspan x="-7" y="60">20</tspan><tspan x="-7" y="114">40</tspan></text><text class="xl" y="156"><tspan x="1.35">0</tspan><tspan x="55.35">20</tspan><tspan x="109.35">40</tspan></text></g>
<g transform="translate(2449.7 846)"><rect width="135.5" height="135.5" fill="#a2a2a2"/><use href="#bl"/><use href="#tk"/><rect class="r" width="135.5" height="135.5"/><text class="tt" x="67.75" y="-9.3">845914</text><text class="yl"><tspan x="-7" y="6">0</tspan><tspan x="-7" y="60">20</tspan><tspan x="-7" y="114">40</tspan></text><text class="xl" y="156"><tspan x="1.35">0</tspan><tspan x="55.35">20</tspan><tspan x="109.35">40</tspan></text></g>
<g transform="translate(2648.05 846)"><rect width="135.5" height="135.5" fill="#9e9e9e"/><ellipse cx="8" cy="10" rx="7" ry="8" fill="url(#wb)"/><use href="#bl"/><use href="#tk"/><rect class="r" width="135.5" height="135.5"/><text class="tt" x="67.75" y="-9.3">845915</text><text class="yl"><tspan x="-7" y="6">0</tspan><tspan x="-7" y="60">20</tspan><tspan x="-7" y="114">40</tspan></text><text class="xl" y="156"><tspan x="1.35">0</tspan><tspan x="55.35">20</tspan><tspan x="109.35">40</tspan></text></g>
<g transform="translate(2846.4 846)"><rect width="135.5" height="135.5" fill="#bababa"/><use href="#bl"/><use href="#tk"/><rect class="r" width="135.5" height="135.5"/><text class="tt" x="67.75" y="-9.3">845916</text><text class="yl"><tspan x="-7" y="6">0</tspan><tspan x="-7" y="60">20</tspan><tspan x="-7" y="114">40</tspan></text><text class="xl" y="156"><tspan x="1.35">0</tspan><tspan x="55.35">20</tspan><tspan x="109.35">40</tspan></text></g>
<g transform="translate(3044.75 846)"><rect width="135.5" height="135.5" fill="#bababa"/><use href="#bl"/><use href="#tk"/><rect class="r" width="135.5" height="135.5"/><text class="tt" x="67.75" y="-9.3">845917</text><text class="yl"><tspan x="-7" y="6">0</tspan><tspan x="-7" y="60">20</tspan><tspan x="-7" y="114">40</tspan></text><text class="xl" y="156"><tspan x="1.35">0</tspan><tspan x="55.35">20</tspan><tspan x="109.35">40</tspan></text></g>
<g transform="translate(3243.1 846)"><rect width="135.5" height="135.5" fill="#b6b6b6"/><use href="#bl"/><use href="#tk"/><rect class="k" width="135.5" height="135.5"/><text class="tt" x="67.75" y="-9.3">845918</text><text class="yl"><tspan x="-7" y="6">0</tspan><tspan x="-7" y="60">20</tspan><tspan x="-7" y="114">40</tspan></text><text class="xl" y="156"><tspan x="1.35">0</tspan><tspan x="55.35">20</tspan><tspan x="109.35">40</tspan></text></g>
<g transform="translate(3441.45 846)"><rect width="135.5" height="135.5" fill="#cacaca"/><use href="#bl"/><use href="#tk"/><rect class="k" width="135.5" height="135.5"/><text class="tt" x="67.75" y="-9.3">845919</text><text class="yl"><tspan x="-7" y="6">0</tspan><tspan x="-7" y="60">20</tspan><tspan x="-7" y="114">40</tspan></text><text class="xl" y="156"><tspan x="1.35">0</tspan><tspan x="55.35">20</tspan><tspan x="109.35">40</tspan></text></g>
<g transform="translate(3639.8 846)"><rect width="135.5" height="135.5" fill="#d2d2d2"/><use href="#bl"/><use href="#tk"/><rect class="k" width="135.5" height="135.5"/><text class="tt" x="67.75" y="-9.3">845920</text><text class="yl"><tspan x="-7" y="6">0</tspan><tspan x="-7" y="60">20</tspan><tspan x="-7" y="114">40</tspan></text><text class="xl" y="156"><tspan x="1.35">0</tspan><tspan x="55.35">20</tspan><tspan x="109.35">40</tspan></text></g>
<g transform="translate(3838.15 846)"><rect width="135.5" height="135.5" fill="#c4c4c4"/><use href="#bl"/><use href="#tk"/><rect class="r" width="135.5" height="135.5"/><text class="tt" x="67.75" y="-9.3">845921</text><text class="yl"><tspan x="-7" y="6">0</tspan><tspan x="-7" y="60">20</tspan><tspan x="-7" y="114">40</tspan></text><text class="xl" y="156"><tspan x="1.35">0</tspan><tspan x="55.35">20</tspan><tspan x="109.35">40</tspan></text></g>
<!-- row 5 -->
<g transform="translate(2053 1041)"><rect width="135.5" height="135.5" fill="#cacaca"/><use href="#bl"/><use href="#tk"/><rect class="k" width="135.5" height="135.5"/><text class="tt" x="67.75" y="-9.3">845922</text><text class="yl"><tspan x="-7" y="6">0</tspan><tspan x="-7" y="60">20</tspan><tspan x="-7" y="114">40</tspan></text><text class="xl" y="156"><tspan x="1.35">0</tspan><tspan x="55.35">20</tspan><tspan x="109.35">40</tspan></text></g>
<g transform="translate(2251.35 1041)"><rect width="135.5" height="135.5" fill="#9e9e9e"/><use href="#bl"/><use href="#tk"/><rect class="k" width="135.5" height="135.5"/><text class="tt" x="67.75" y="-9.3">845923</text><text class="yl"><tspan x="-7" y="6">0</tspan><tspan x="-7" y="60">20</tspan><tspan x="-7" y="114">40</tspan></text><text class="xl" y="156"><tspan x="1.35">0</tspan><tspan x="55.35">20</tspan><tspan x="109.35">40</tspan></text></g>
<g transform="translate(2449.7 1041)"><rect width="135.5" height="135.5" fill="#aaaaaa"/><use href="#bl"/><use href="#tk"/><rect class="k" width="135.5" height="135.5"/><text class="tt" x="67.75" y="-9.3">845924</text><text class="yl"><tspan x="-7" y="6">0</tspan><tspan x="-7" y="60">20</tspan><tspan x="-7" y="114">40</tspan></text><text class="xl" y="156"><tspan x="1.35">0</tspan><tspan x="55.35">20</tspan><tspan x="109.35">40</tspan></text></g>
<g transform="translate(2648.05 1041)"><rect width="135.5" height="135.5" fill="#aaaaaa"/><use href="#bl"/><use href="#tk"/><rect class="k" width="135.5" height="135.5"/><text class="tt" x="67.75" y="-9.3">845925</text><text class="yl"><tspan x="-7" y="6">0</tspan><tspan x="-7" y="60">20</tspan><tspan x="-7" y="114">40</tspan></text><text class="xl" y="156"><tspan x="1.35">0</tspan><tspan x="55.35">20</tspan><tspan x="109.35">40</tspan></text></g>
<g transform="translate(2846.4 1041)"><rect width="135.5" height="135.5" fill="#9b9b9b"/><rect width="14" height="135.5" fill="#8a8a8a"/><use href="#bl"/><use href="#tk"/><rect class="k" width="135.5" height="135.5"/><text class="tt" x="67.75" y="-9.3">845926</text><text class="yl"><tspan x="-7" y="6">0</tspan><tspan x="-7" y="60">20</tspan><tspan x="-7" y="114">40</tspan></text><text class="xl" y="156"><tspan x="1.35">0</tspan><tspan x="55.35">20</tspan><tspan x="109.35">40</tspan></text></g>
<g transform="translate(3044.75 1041)"><rect width="135.5" height="135.5" fill="#a5a5a5"/><use href="#bl"/><use href="#tk"/><rect class="k" width="135.5" height="135.5"/><text class="tt" x="67.75" y="-9.3">845927</text><text class="yl"><tspan x="-7" y="6">0</tspan><tspan x="-7" y="60">20</tspan><tspan x="-7" y="114">40</tspan></text><text class="xl" y="156"><tspan x="1.35">0</tspan><tspan x="55.35">20</tspan><tspan x="109.35">40</tspan></text></g>
<g transform="translate(3243.1 1041)"><rect width="135.5" height="135.5" fill="#b2b2b2"/><use href="#bl"/><use href="#tk"/><rect class="r" width="135.5" height="135.5"/><text class="tt" x="67.75" y="-9.3">845928</text><text class="yl"><tspan x="-7" y="6">0</tspan><tspan x="-7" y="60">20</tspan><tspan x="-7" y="114">40</tspan></text><text class="xl" y="156"><tspan x="1.35">0</tspan><tspan x="55.35">20</tspan><tspan x="109.35">40</tspan></text></g>
<g transform="translate(3441.45 1041)"><rect width="135.5" height="135.5" fill="#c6c6c6"/><use href="#bl"/><use href="#tk"/><rect class="r" width="135.5" height="135.5"/><text class="tt" x="67.75" y="-9.3">845929</text><text class="yl"><tspan x="-7" y="6">0</tspan><tspan x="-7" y="60">20</tspan><tspan x="-7" y="114">40</tspan></text><text class="xl" y="156"><tspan x="1.35">0</tspan><tspan x="55.35">20</tspan><tspan x="109.35">40</tspan></text></g>
<g transform="translate(3639.8 1041)"><rect width="135.5" height="135.5" fill="#acacac"/><use href="#bl"/><use href="#tk"/><rect class="r" width="135.5" height="135.5"/><text class="tt" x="67.75" y="-9.3">845930</text><text class="yl"><tspan x="-7" y="6">0</tspan><tspan x="-7" y="60">20</tspan><tspan x="-7" y="114">40</tspan></text><text class="xl" y="156"><tspan x="1.35">0</tspan><tspan x="55.35">20</tspan><tspan x="109.35">40</tspan></text></g>
<g transform="translate(3838.15 1041)"><rect width="135.5" height="135.5" fill="#b2b2b2"/><use href="#bl"/><use href="#tk"/><rect class="k" width="135.5" height="135.5"/><text class="tt" x="67.75" y="-9.3">845931</text><text class="yl"><tspan x="-7" y="6">0</tspan><tspan x="-7" y="60">20</tspan><tspan x="-7" y="114">40</tspan></text><text class="xl" y="156"><tspan x="1.35">0</tspan><tspan x="55.35">20</tspan><tspan x="109.35">40</tspan></text></g>
<!-- row 6 -->
<g transform="translate(2053 1236)"><rect width="135.5" height="135.5" fill="#b6b6b6"/><use href="#bl"/><use href="#tk"/><rect class="k" width="135.5" height="135.5"/><text class="tt" x="67.75" y="-9.3">845932</text><text class="yl"><tspan x="-7" y="6">0</tspan><tspan x="-7" y="60">20</tspan><tspan x="-7" y="114">40</tspan></text><text class="xl" y="156"><tspan x="1.35">0</tspan><tspan x="55.35">20</tspan><tspan x="109.35">40</tspan></text></g>
<g transform="translate(2251.35 1236)"><rect width="135.5" height="135.5" fill="#c2c2c2"/><use href="#bl"/><use href="#tk"/><rect class="r" width="135.5" height="135.5"/><text class="tt" x="67.75" y="-9.3">845933</text><text class="yl"><tspan x="-7" y="6">0</tspan><tspan x="-7" y="60">20</tspan><tspan x="-7" y="114">40</tspan></text><text class="xl" y="156"><tspan x="1.35">0</tspan><tspan x="55.35">20</tspan><tspan x="109.35">40</tspan></text></g>
<g transform="translate(2449.7 1236)"><rect width="135.5" height="135.5" fill="#b6b6b6"/><use href="#bl"/><use href="#tk"/><rect class="r" width="135.5" height="135.5"/><text class="tt" x="67.75" y="-9.3">845934</text><text class="yl"><tspan x="-7" y="6">0</tspan><tspan x="-7" y="60">20</tspan><tspan x="-7" y="114">40</tspan></text><text class="xl" y="156"><tspan x="1.35">0</tspan><tspan x="55.35">20</tspan><tspan x="109.35">40</tspan></text></g>
<g transform="translate(2648.05 1236)"><rect width="135.5" height="135.5" fill="#b6b6b6"/><use href="#bl"/><use href="#tk"/><rect class="r" width="135.5" height="135.5"/><text class="tt" x="67.75" y="-9.3">845935</text><text class="yl"><tspan x="-7" y="6">0</tspan><tspan x="-7" y="60">20</tspan><tspan x="-7" y="114">40</tspan></text><text class="xl" y="156"><tspan x="1.35">0</tspan><tspan x="55.35">20</tspan><tspan x="109.35">40</tspan></text></g>
<g transform="translate(2846.4 1236)"><rect width="135.5" height="135.5" fill="#bababa"/><use href="#bl"/><use href="#tk"/><rect class="r" width="135.5" height="135.5"/><text class="tt" x="67.75" y="-9.3">845936</text><text class="yl"><tspan x="-7" y="6">0</tspan><tspan x="-7" y="60">20</tspan><tspan x="-7" y="114">40</tspan></text><text class="xl" y="156"><tspan x="1.35">0</tspan><tspan x="55.35">20</tspan><tspan x="109.35">40</tspan></text></g>
<g transform="translate(3044.75 1236)"><rect width="135.5" height="135.5" fill="#ececec"/><circle cx="71" cy="69" r="30" fill="url(#tb)" opacity=".07"/><circle cx="17.5" cy="22.5" r="2.5" fill="#222"/><use href="#tk"/><rect class="k" width="135.5" height="135.5"/><text class="tt" x="67.75" y="-9.3">845937</text><text class="yl"><tspan x="-7" y="6">0</tspan><tspan x="-7" y="60">20</tspan><tspan x="-7" y="114">40</tspan></text><text class="xl" y="156"><tspan x="1.35">0</tspan><tspan x="55.35">20</tspan><tspan x="109.35">40</tspan></text></g>
<g transform="translate(3243.1 1236)"><rect width="135.5" height="135.5" fill="#b6b6b6"/><use href="#bl"/><use href="#tk"/><rect class="k" width="135.5" height="135.5"/><text class="tt" x="67.75" y="-9.3">845938</text><text class="yl"><tspan x="-7" y="6">0</tspan><tspan x="-7" y="60">20</tspan><tspan x="-7" y="114">40</tspan></text><text class="xl" y="156"><tspan x="1.35">0</tspan><tspan x="55.35">20</tspan><tspan x="109.35">40</tspan></text></g>
<g transform="translate(3441.45 1236)"><rect width="135.5" height="135.5" fill="#b2b2b2"/><use href="#bl"/><use href="#tk"/><rect class="r" width="135.5" height="135.5"/><text class="tt" x="67.75" y="-9.3">845939</text><text class="yl"><tspan x="-7" y="6">0</tspan><tspan x="-7" y="60">20</tspan><tspan x="-7" y="114">40</tspan></text><text class="xl" y="156"><tspan x="1.35">0</tspan><tspan x="55.35">20</tspan><tspan x="109.35">40</tspan></text></g>
<g transform="translate(3639.8 1236)"><rect width="135.5" height="135.5" fill="#bababa"/><use href="#bl"/><use href="#tk"/><rect class="k" width="135.5" height="135.5"/><text class="tt" x="67.75" y="-9.3">845940</text><text class="yl"><tspan x="-7" y="6">0</tspan><tspan x="-7" y="60">20</tspan><tspan x="-7" y="114">40</tspan></text><text class="xl" y="156"><tspan x="1.35">0</tspan><tspan x="55.35">20</tspan><tspan x="109.35">40</tspan></text></g>
<g transform="translate(3838.15 1236)"><rect width="135.5" height="135.5" fill="#bebebe"/><use href="#bl"/><use href="#tk"/><rect class="k" width="135.5" height="135.5"/><text class="tt" x="67.75" y="-9.3">845941</text><text class="yl"><tspan x="-7" y="6">0</tspan><tspan x="-7" y="60">20</tspan><tspan x="-7" y="114">40</tspan></text><text class="xl" y="156"><tspan x="1.35">0</tspan><tspan x="55.35">20</tspan><tspan x="109.35">40</tspan></text></g>
<!-- row 7 -->
<g transform="translate(2053 1431)"><rect width="135.5" height="135.5" fill="#bebebe"/><use href="#bl"/><use href="#tk"/><rect class="k" width="135.5" height="135.5"/><text class="tt" x="67.75" y="-9.3">845942</text><text class="yl"><tspan x="-7" y="6">0</tspan><tspan x="-7" y="60">20</tspan><tspan x="-7" y="114">40</tspan></text><text class="xl" y="156"><tspan x="1.35">0</tspan><tspan x="55.35">20</tspan><tspan x="109.35">40</tspan></text></g>
<g transform="translate(2251.35 1431)"><rect width="135.5" height="135.5" fill="#c3c3c3"/><use href="#bl"/><use href="#tk"/><rect class="k" width="135.5" height="135.5"/><text class="tt" x="67.75" y="-9.3">845943</text><text class="yl"><tspan x="-7" y="6">0</tspan><tspan x="-7" y="60">20</tspan><tspan x="-7" y="114">40</tspan></text><text class="xl" y="156"><tspan x="1.35">0</tspan><tspan x="55.35">20</tspan><tspan x="109.35">40</tspan></text></g>
<g transform="translate(2449.7 1431)"><rect width="135.5" height="135.5" fill="#c3c3c3"/><use href="#bl"/><use href="#tk"/><rect class="k" width="135.5" height="135.5"/><text class="tt" x="67.75" y="-9.3">845944</text><text class="yl"><tspan x="-7" y="6">0</tspan><tspan x="-7" y="60">20</tspan><tspan x="-7" y="114">40</tspan></text><text class="xl" y="156"><tspan x="1.35">0</tspan><tspan x="55.35">20</tspan><tspan x="109.35">40</tspan></text></g>
<g transform="translate(2648.05 1431)"><rect width="135.5" height="135.5" fill="#cacaca"/><use href="#bl"/><use href="#tk"/><rect class="k" width="135.5" height="135.5"/><text class="tt" x="67.75" y="-9.3">845945</text><text class="yl"><tspan x="-7" y="6">0</tspan><tspan x="-7" y="60">20</tspan><tspan x="-7" y="114">40</tspan></text><text class="xl" y="156"><tspan x="1.35">0</tspan><tspan x="55.35">20</tspan><tspan x="109.35">40</tspan></text></g>
<g transform="translate(2846.4 1431)"><rect width="135.5" height="135.5" fill="#989898"/><use href="#bl"/><use href="#tk"/><rect class="k" width="135.5" height="135.5"/><text class="tt" x="67.75" y="-9.3">845946</text><text class="yl"><tspan x="-7" y="6">0</tspan><tspan x="-7" y="60">20</tspan><tspan x="-7" y="114">40</tspan></text><text class="xl" y="156"><tspan x="1.35">0</tspan><tspan x="55.35">20</tspan><tspan x="109.35">40</tspan></text></g>
<g transform="translate(3044.75 1431)"><rect width="135.5" height="135.5" fill="#aaaaaa"/><use href="#bl"/><use href="#tk"/><rect class="k" width="135.5" height="135.5"/><text class="tt" x="67.75" y="-9.3">845949</text><text class="yl"><tspan x="-7" y="6">0</tspan><tspan x="-7" y="60">20</tspan><tspan x="-7" y="114">40</tspan></text><text class="xl" y="156"><tspan x="1.35">0</tspan><tspan x="55.35">20</tspan><tspan x="109.35">40</tspan></text></g>
<g transform="translate(3243.1 1431)"><rect width="135.5" height="135.5" fill="#c3c3c3"/><use href="#bl"/><use href="#tk"/><rect class="k" width="135.5" height="135.5"/><text class="tt" x="67.75" y="-9.3">845950</text><text class="yl"><tspan x="-7" y="6">0</tspan><tspan x="-7" y="60">20</tspan><tspan x="-7" y="114">40</tspan></text><text class="xl" y="156"><tspan x="1.35">0</tspan><tspan x="55.35">20</tspan><tspan x="109.35">40</tspan></text></g>
<g transform="translate(3441.45 1431)"><rect width="135.5" height="135.5" fill="#7c7c7c"/><rect width="22" height="135.5" fill="#888"/><ellipse cx="33" cy="14" rx="9" ry="16" fill="url(#wb)" opacity=".85"/><use href="#bl"/><use href="#tk"/><rect class="k" width="135.5" height="135.5"/><text class="tt" x="67.75" y="-9.3">845954</text><text class="yl"><tspan x="-7" y="6">0</tspan><tspan x="-7" y="60">20</tspan><tspan x="-7" y="114">40</tspan></text><text class="xl" y="156"><tspan x="1.35">0</tspan><tspan x="55.35">20</tspan><tspan x="109.35">40</tspan></text></g>
<g transform="translate(3639.8 1431)"><rect width="135.5" height="135.5" fill="#7c7c7c"/><rect width="30" height="135.5" fill="#8c8c8c"/><ellipse cx="45" cy="30" rx="10" ry="18" fill="url(#wb)" opacity=".85"/><use href="#bl"/><use href="#tk"/><rect class="k" width="135.5" height="135.5"/><text class="tt" x="67.75" y="-9.3">845956</text><text class="yl"><tspan x="-7" y="6">0</tspan><tspan x="-7" y="60">20</tspan><tspan x="-7" y="114">40</tspan></text><text class="xl" y="156"><tspan x="1.35">0</tspan><tspan x="55.35">20</tspan><tspan x="109.35">40</tspan></text></g>
<g transform="translate(3838.15 1431)"><rect width="135.5" height="135.5" fill="#7e7e7e"/><rect width="35" height="135.5" fill="#8e8e8e"/><ellipse cx="46" cy="30" rx="9" ry="15" fill="url(#wb)" opacity=".85"/><use href="#bl"/><use href="#tk"/><rect class="k" width="135.5" height="135.5"/><text class="tt" x="67.75" y="-9.3">845957</text><text class="yl"><tspan x="-7" y="6">0</tspan><tspan x="-7" y="60">20</tspan><tspan x="-7" y="114">40</tspan></text><text class="xl" y="156"><tspan x="1.35">0</tspan><tspan x="55.35">20</tspan><tspan x="109.35">40</tspan></text></g>
<!-- row 8 -->
<g transform="translate(2053 1626)"><rect width="135.5" height="135.5" fill="#7a7a7a"/><rect width="40" height="135.5" fill="#929292"/><ellipse cx="50" cy="38" rx="10" ry="16" fill="url(#wb)" opacity=".85"/><use href="#bl"/><use href="#tk"/><rect class="k" width="135.5" height="135.5"/><text class="tt" x="67.75" y="-9.3">845958</text><text class="yl"><tspan x="-7" y="6">0</tspan><tspan x="-7" y="60">20</tspan><tspan x="-7" y="114">40</tspan></text><text class="xl" y="156"><tspan x="1.35">0</tspan><tspan x="55.35">20</tspan><tspan x="109.35">40</tspan></text></g>
<g transform="translate(2251.35 1626)"><rect width="135.5" height="135.5" fill="#6e6e6e"/><rect width="35" height="135.5" fill="#666"/><ellipse cx="50" cy="50" rx="9" ry="14" fill="url(#wb)" opacity=".85"/><use href="#bl"/><use href="#tk"/><rect class="k" width="135.5" height="135.5"/><text class="tt" x="67.75" y="-9.3">845959</text><text class="yl"><tspan x="-7" y="6">0</tspan><tspan x="-7" y="60">20</tspan><tspan x="-7" y="114">40</tspan></text><text class="xl" y="156"><tspan x="1.35">0</tspan><tspan x="55.35">20</tspan><tspan x="109.35">40</tspan></text></g>
<g transform="translate(2449.7 1626)"><rect width="135.5" height="135.5" fill="#838383"/><rect width="40" height="135.5" fill="#9a9a9a"/><ellipse cx="55" cy="57" rx="9" ry="14" fill="url(#wb)" opacity=".85"/><use href="#bl"/><use href="#tk"/><rect class="k" width="135.5" height="135.5"/><text class="tt" x="67.75" y="-9.3">845960</text><text class="yl"><tspan x="-7" y="6">0</tspan><tspan x="-7" y="60">20</tspan><tspan x="-7" y="114">40</tspan></text><text class="xl" y="156"><tspan x="1.35">0</tspan><tspan x="55.35">20</tspan><tspan x="109.35">40</tspan></text></g>
<g transform="translate(2648.05 1626)"><rect width="135.5" height="135.5" fill="#8a8a8a"/><rect x="66" width="69.5" height="135.5" fill="#939393"/><ellipse cx="35" cy="12" rx="8" ry="10" fill="#555"/><ellipse cx="72" cy="88" rx="4" ry="12" fill="url(#wb)"/><use href="#tk"/><rect class="k" width="135.5" height="135.5"/><text class="tt" x="67.75" y="-9.3">845961</text><text class="yl"><tspan x="-7" y="6">0</tspan><tspan x="-7" y="60">20</tspan><tspan x="-7" y="114">40</tspan></text><text class="xl" y="156"><tspan x="1.35">0</tspan><tspan x="55.35">20</tspan><tspan x="109.35">40</tspan></text></g>
</g>
<text x="2999" y="47.7" class="tt">cluster 19</text>
<rect x="2040" y="60" width="1950" height="1710" filter="url(#nz)" style="mix-blend-mode:soft-light"/>
</svg>
</body></html>
